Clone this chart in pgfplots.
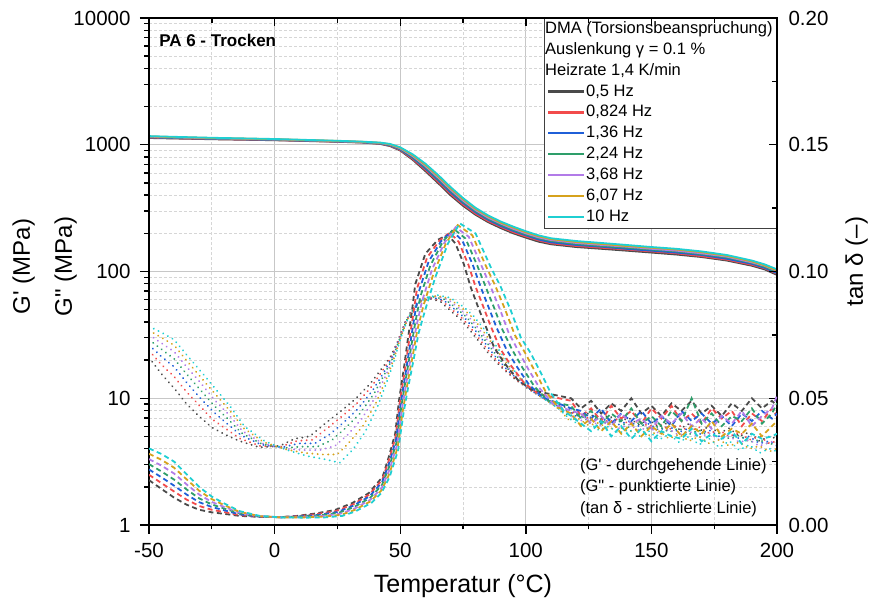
\documentclass[border=0pt]{standalone}
\usepackage{pgfplots}
\pgfplotsset{compat=1.18}
\usepackage{pgfplotstable}
\usepackage{fontspec}
\setmainfont{Liberation Sans}
\definecolor{c0}{HTML}{4A4A4A}
\definecolor{c1}{HTML}{F24B4B}
\definecolor{c2}{HTML}{1F5FD8}
\definecolor{c3}{HTML}{2E9E6A}
\definecolor{c4}{HTML}{B27BE8}
\definecolor{c5}{HTML}{D6A21C}
\definecolor{c6}{HTML}{1FCFD2}
\pgfplotsset{
  gp/.style={line width=1.8pt, solid, no markers},
  gpp/.style={line width=2pt, dash pattern=on 0.1pt off 5.2pt, line cap=round, no markers, forget plot},
  td/.style={line width=1.8pt, dash pattern=on 5pt off 3.5pt, no markers},
}
% G' (MPa)
\pgfplotstableread{
T g0 g1 g2 g3 g4 g5 g6
-50 1130 1137 1143 1150 1157 1163 1170
-40 1120 1126 1132 1138 1143 1149 1155
-25 1105 1110 1115 1120 1125 1130 1135
0 1085 1089 1093 1098 1102 1106 1110
25 1055 1058 1062 1065 1068 1072 1075
35 1040 1043 1046 1049 1052 1055 1058
42 1015 1019 1023 1028 1032 1036 1040
46 975 982 988 995 1002 1008 1015
50 900 909 918 928 937 946 955
55 760 773 787 800 813 827 840
60 620 635 650 665 680 695 710
65 500 513 527 540 553 567 580
70 400 411 422 433 443 454 465
75 330 338 347 355 363 372 380
80 280 286 293 299 305 312 318
85 245 250 256 261 266 272 277
90 220 225 229 234 239 243 248
95 200 204 209 213 217 222 226
100 185 189 193 196 200 204 208
105 172 176 179 183 186 190 193
110 164 167 170 174 177 180 183
120 156 159 162 165 168 171 174
130 151 154 157 159 162 165 168
140 146 149 151 154 157 159 162
150 141 144 146 149 151 154 156
160 136 139 141 144 146 149 151
170 130 132 135 137 139 142 144
180 122 124 126 129 131 133 135
190 111 113 115 117 118 120 122
195 104 106 107 109 111 112 114
200 94 96 97 99 101 102 104
}\Gp
% G'' (MPa)
\pgfplotstableread{
t0 v0 t1 v1 t2 v2 t3 v3 t4 v4 t5 v5 t6 v6
-50 21 -50 23.7 -50 26.3 -50 29 -50 31.7 -50 34.3 -50 37
-45 15.5 -45 18.4 -45 21.3 -45 24.3 -45 27.2 -45 30.1 -45 33
-40 12 -40 14.8 -40 17.7 -40 20.5 -40 23.3 -40 26.2 -40 29
-35 9 -35 11.2 -35 13.3 -35 15.5 -35 17.7 -35 19.8 -35 22
-30 7.2 -29.8 8.7 -29.7 10.1 -29.5 11.6 -29.3 13.1 -29.2 14.5 -29 16
-25 5.9 -24.7 6.8 -24.3 7.8 -24 8.7 -23.7 9.6 -23.3 10.6 -23 11.5
-20 5.2 -19.7 5.8 -19.3 6.4 -19 7.0 -18.7 7.6 -18.3 8.2 -18 8.8
-14 4.6 -13.7 4.8 -13.3 5.1 -13 5.3 -12.7 5.5 -12.3 5.8 -12 6.0
-6 4.1 -5.7 4.2 -5.3 4.3 -5 4.35 -4.7 4.4 -4.3 4.5 -4 4.6
2 4.2 2.5 4.15 3 4.1 3.5 4.05 4 4.0 4.5 3.95 5 3.9
8 4.8 8.8 4.6 9.7 4.4 10.5 4.15 11.3 3.9 12.2 3.7 13 3.5
14 5.0 15 4.7 16 4.4 17 4.15 18 3.9 19 3.6 20 3.3
20 6.3 21 5.8 22 5.2 23 4.7 24 4.2 25 3.6 26 3.1
26 7.8 26.8 7.2 27.7 6.5 28.5 5.9 29.3 5.2 30.2 4.6 31 3.9
32 9.8 32.7 9.1 33.3 8.3 34 7.6 34.7 6.9 35.3 6.1 36 5.4
38 13 38.5 12.3 39 11.5 39.5 10.8 40 10.1 40.5 9.3 41 8.6
43 17.5 43.3 16.9 43.7 16.3 44 15.8 44.3 15.2 44.7 14.6 45 14
46 21 46.25 20.75 46.5 20.5 46.75 20.25 47 20 47.25 19.75 47.5 19.5
49 28 49.2 28.2 49.3 28.3 49.5 28.5 49.7 28.7 49.8 28.8 50 29
52 40 52.2 40.3 52.3 40.7 52.5 41 52.7 41.3 52.8 41.7 53 42
55 51 55.25 51.5 55.5 52 55.75 52.5 56 53 56.25 53.5 56.5 54
58 58 58.3 58.7 58.7 59.3 59 60 59.3 60.7 59.7 61.3 60 62
62 61 62.5 61.7 63 62.3 63.5 63 64 63.7 64.5 64.3 65 65
66 58 66.7 58.7 67.3 59.3 68 60 68.7 60.7 69.3 61.3 70 62
70 49 70.8 49.7 71.7 50.3 72.5 51 73.3 51.7 74.2 52.3 75 53
74 42 74.8 42.5 75.7 43 76.5 43.5 77.3 44 78.2 44.5 79 45
78 34 78.8 34.3 79.7 34.7 80.5 35 81.3 35.3 82.2 35.7 83 36
82 27 82.8 27.2 83.7 27.3 84.5 27.5 85.3 27.7 86.2 27.8 87 28
86 21.5 86.8 21.5 87.7 21.5 88.5 21.5 89.3 21.5 90.2 21.5 91 21.5
91 17 91.8 16.8 92.7 16.7 93.5 16.5 94.3 16.3 95.2 16.2 96 16
96 14 96.8 13.75 97.7 13.5 98.5 13.25 99.3 13 100.2 12.75 101 12.5
102 11.5 102.8 11.25 103.7 11 104.5 10.75 105.3 10.5 106.2 10.25 107 10
108 9.8 108.8 9.55 109.7 9.3 110.5 9.05 111.3 8.8 112.2 8.55 113 8.3
117 8.3 117 7.7 117 7.9 117 7.3 117 7.5 117 6.8 117 7.0
121 7.2 121 7.6 121 7.0 121 7.4 121 6.6 121 6.9 121 6.2
125 7.6 125 6.9 125 7.2 125 6.6 125 6.9 125 6.1 125 6.5
129 6.8 129 7.2 129 6.5 129 7.0 129 6.1 129 6.4 129 5.6
133 7.3 133 6.5 133 6.9 133 6.2 133 6.5 133 5.7 133 6.0
137 6.5 137 6.9 137 6.2 137 6.6 137 5.8 137 6.0 137 5.3
141 7.0 141 6.3 141 6.6 141 5.9 141 6.2 141 5.4 141 5.7
145 6.2 145 6.6 145 6.0 145 6.4 145 5.6 145 5.8 145 5.0
149 6.8 149 6.0 149 6.3 149 5.7 149 5.9 149 5.1 149 5.5
153 5.9 153 6.3 153 5.6 153 6.0 153 5.3 153 5.5 153 4.7
157 6.5 157 5.7 157 6.0 157 5.4 157 5.7 157 4.8 157 5.2
161 5.7 161 6.1 161 5.4 161 5.8 161 5.1 161 5.2 161 4.5
165 6.3 165 5.5 165 5.8 165 5.2 165 5.5 165 4.6 165 5.0
169 5.5 169 5.9 169 5.2 169 5.6 169 4.9 169 5.0 169 4.3
173 6.0 173 5.3 173 5.6 173 5.0 173 5.3 173 4.4 173 4.8
177 5.3 177 5.6 177 5.0 177 5.3 177 4.7 177 4.7 177 4.1
181 5.8 181 5.0 181 5.3 181 4.8 181 5.0 181 4.2 181 4.6
185 5.0 185 5.4 185 4.8 185 5.1 185 4.5 185 4.5 185 3.9
189 5.4 189 4.7 189 5.0 189 4.5 189 4.7 189 4.0 189 4.3
193 4.6 193 5.0 193 4.4 193 4.7 193 4.2 193 4.2 193 3.7
197 5.0 197 4.4 197 4.6 197 4.3 197 4.5 197 3.8 197 4.0
200 4.8 200 4.6 200 4.2 200 4.5 200 4.6 200 4.0 200 3.8
}\Gpp
% tan delta
\pgfplotstableread{
t0 v0 t1 v1 t2 v2 t3 v3 t4 v4 t5 v5 t6 v6
-50 0.0177 -50 0.0198 -50 0.0219 -50 0.0240 -50 0.0260 -50 0.0281 -50 0.0302
-45 0.0142 -45 0.0165 -45 0.0188 -45 0.0211 -45 0.0234 -45 0.0257 -45 0.0280
-40 0.0108 -40 0.0132 -40 0.0155 -40 0.0179 -40 0.0203 -40 0.0226 -40 0.0250
-35 0.0080 -35 0.0100 -35 0.0120 -35 0.0140 -35 0.0160 -35 0.0180 -35 0.0200
-30 0.0060 -30 0.0075 -30 0.0090 -30 0.0105 -30 0.0120 -30 0.0135 -30 0.0150
-25 0.0050 -25 0.0060 -25 0.0071 -25 0.0081 -25 0.0091 -25 0.0102 -25 0.0112
-20 0.0044 -20 0.0051 -20 0.0058 -20 0.0065 -20 0.0071 -20 0.0078 -20 0.0085
-14 0.0036 -14 0.0039 -14 0.0042 -14 0.0046 -14 0.0049 -14 0.0052 -14 0.0055
-6 0.0032 -6 0.0033 -6 0.0033 -6 0.0034 -6 0.0035 -6 0.0035 -6 0.0036
2 0.0031 2.2 0.0031 2.3 0.0031 2.5 0.0030 2.7 0.0030 2.8 0.0030 3 0.0030
9 0.0036 9.5 0.0035 10 0.0034 10.5 0.0033 11 0.0031 11.5 0.0030 12 0.0029
16 0.0045 16.7 0.0043 17.3 0.0040 18 0.0038 18.7 0.0035 19.3 0.0033 20 0.0030
24 0.0059 24.5 0.0055 25 0.0051 25.5 0.0048 26 0.0044 26.5 0.0040 27 0.0036
31 0.0087 31.2 0.0081 31.3 0.0076 31.5 0.0070 31.7 0.0064 31.8 0.0059 32 0.0053
37.5 0.0126 37.7 0.0120 37.8 0.0113 38 0.0107 38.2 0.0100 38.3 0.0094 38.5 0.0087
43 0.0190 42.9 0.0179 42.8 0.0169 42.75 0.0158 42.7 0.0147 42.6 0.0137 42.5 0.0126
45.5 0.0270 45.55 0.0257 45.6 0.0243 45.65 0.0230 45.7 0.0217 45.75 0.0203 45.8 0.0190
48 0.0360 48.2 0.0349 48.4 0.0339 48.6 0.0328 48.8 0.0317 49 0.0307 49.2 0.0296
49.5 0.0490 49.8 0.0482 50.1 0.0473 50.4 0.0465 50.7 0.0457 51 0.0448 51.3 0.0440
51.5 0.0620 51.8 0.0608 52.1 0.0595 52.35 0.0583 52.6 0.0570 52.9 0.0558 53.2 0.0545
53 0.0730 53.4 0.0717 53.8 0.0703 54.15 0.0690 54.5 0.0677 54.9 0.0663 55.3 0.0650
54.5 0.0830 55 0.0818 55.4 0.0805 55.9 0.0793 56.4 0.0781 56.8 0.0768 57.3 0.0756
56 0.0950 56.7 0.0933 57.3 0.0917 58 0.0900 58.7 0.0883 59.3 0.0867 60 0.0850
60 0.1070 60.7 0.1055 61.3 0.1039 62 0.1024 62.7 0.1009 63.3 0.0993 64 0.0978
65 0.1125 65.7 0.1123 66.3 0.1120 67 0.1118 67.7 0.1115 68.3 0.1113 69 0.1110
69 0.1145 69.8 0.1153 70.6 0.1160 71.35 0.1168 72.1 0.1175 72.9 0.1183 73.7 0.1190
72 0.1110 73.3 0.1117 74.7 0.1123 76 0.1130 77.3 0.1137 78.7 0.1143 80 0.1150
75.3 0.1030 77.1 0.1028 78.9 0.1026 80.65 0.1024 82.4 0.1022 84.2 0.1020 86 0.1018
78 0.0940 80 0.0940 82 0.0940 84 0.0940 86 0.0940 88 0.0940 90 0.0940
81 0.0860 83.2 0.0858 85.3 0.0856 87.5 0.0854 89.7 0.0851 91.8 0.0849 94 0.0847
83.4 0.0800 85.8 0.0790 88.3 0.0780 90.7 0.0770 93.1 0.0760 95.6 0.0750 98 0.0740
87.4 0.0700 89.8 0.0696 92.3 0.0692 94.7 0.0689 97.1 0.0685 99.6 0.0681 102 0.0677
91.4 0.0640 93.8 0.0633 96.3 0.0627 98.7 0.0620 101.1 0.0613 103.6 0.0607 106 0.0600
97 0.0570 99.2 0.0562 101.3 0.0553 103.5 0.0545 105.7 0.0537 107.8 0.0528 110 0.0520
103 0.0530 105 0.0517 107 0.0503 109 0.0490 111 0.0477 113 0.0463 115 0.0450
118 0.050 118 0.049 118 0.046 118 0.047 118 0.045 118 0.044 118 0.043
122 0.046 122 0.043 122 0.045 122 0.042 122 0.044 122 0.039 122 0.040
126 0.049 126 0.046 126 0.042 126 0.045 126 0.040 126 0.042 126 0.037
130 0.044 130 0.041 130 0.046 130 0.040 130 0.043 130 0.037 130 0.041
134 0.048 134 0.047 134 0.040 134 0.044 134 0.039 134 0.041 134 0.035
138 0.045 138 0.042 138 0.044 138 0.041 138 0.044 138 0.036 138 0.039
142 0.050 142 0.045 142 0.041 142 0.046 142 0.040 142 0.040 142 0.034
146 0.044 146 0.040 146 0.045 146 0.040 146 0.042 146 0.035 146 0.038
150 0.047 150 0.046 150 0.040 150 0.043 150 0.038 150 0.039 150 0.033
154 0.043 154 0.042 154 0.043 154 0.039 154 0.043 154 0.036 154 0.037
158 0.048 158 0.047 158 0.039 158 0.045 158 0.040 158 0.040 158 0.035
162 0.045 162 0.041 162 0.045 162 0.041 162 0.044 162 0.035 162 0.034
166 0.049 166 0.044 166 0.041 166 0.050 166 0.039 166 0.039 166 0.038
170 0.044 170 0.040 170 0.044 170 0.040 170 0.042 170 0.036 170 0.033
174 0.047 174 0.046 174 0.040 174 0.044 174 0.038 174 0.041 174 0.036
178 0.043 178 0.042 178 0.043 178 0.039 178 0.043 178 0.035 178 0.034
182 0.048 182 0.045 182 0.039 182 0.043 182 0.040 182 0.038 182 0.037
186 0.045 186 0.039 186 0.044 186 0.041 186 0.045 186 0.036 186 0.032
190 0.050 190 0.044 190 0.041 190 0.046 190 0.039 190 0.040 190 0.036
194 0.046 194 0.041 194 0.045 194 0.040 194 0.043 194 0.035 194 0.034
198 0.049 198 0.046 198 0.042 198 0.044 198 0.046 198 0.039 198 0.035
200 0.047 200 0.043 200 0.044 200 0.048 200 0.051 200 0.041 200 0.036
}\Td
\begin{document}
\begin{tikzpicture}
\path[use as bounding box] (-149pt,-78pt) rectangle (723pt,525pt);
\begin{axis}[
  at={(0pt,0pt)}, anchor=south west,
  scale only axis, width=628pt, height=507pt,
  xmin=-50, xmax=200, ymode=log, ymin=1, ymax=10000,
  xtick={-50,0,50,100,150,200}, minor x tick num=1,
  xticklabels={-50,0,50,100,150,200},
  ytick={1,10,100,1000,10000}, yticklabels={1,10,100,1000,10000},
  xtick pos=left, ytick pos=left, tick align=outside,
  major tick length=9pt, minor tick length=4.5pt,
  xmajorgrids, xminorgrids, ymajorgrids, yminorgrids,
  major grid style={draw=black!22, line width=1.1pt},
  minor grid style={draw=black!16, line width=0.6pt, dash pattern=on 3pt off 2pt},
  axis line style={line width=1.6pt},
  tick style={line width=1.4pt, black},
  ticklabel style={font=\fontsize{20.5}{24}\selectfont},
  xticklabel style={yshift=-6pt},
  yticklabel style={xshift=-6pt},
  xlabel={Temperatur (°C)},
  xlabel style={at={(axis description cs:0.5,0)}, anchor=center, yshift=-61pt, font=\fontsize{25}{30}\selectfont},
  ylabel={G\textquotesingle{} (MPa)\\G\textquotedbl{} (MPa)},
  ylabel style={at={(axis description cs:-0.166,0.51)}, anchor=center, align=center, font=\fontsize{24}{42}\selectfont},
  legend style={at={(rel axis cs:1,1)}, anchor=north east, draw=black!75, line width=0.8pt, fill=white,
    font=\fontsize{16.5}{19}\selectfont, row sep=2.9pt,
    nodes={inner sep=1pt, text height=12pt, text depth=4pt}},
  legend cell align=left,
  legend image code/.code={\draw[#1, line width=2.2pt] (0pt,0.5pt) -- (36pt,0.5pt);},
]
\addlegendimage{empty legend}\addlegendentry{\hspace*{-41pt}DMA (Torsionsbeanspruchung)}
\addlegendimage{empty legend}\addlegendentry{\hspace*{-41pt}Auslenkung γ = 0.1 \%}
\addlegendimage{empty legend}\addlegendentry{\hspace*{-41pt}Heizrate 1,4 K/min}
\addplot[gpp,c0] table[x=t0,y=v0]{\Gpp};
\addplot[gpp,c1] table[x=t1,y=v1]{\Gpp};
\addplot[gpp,c2] table[x=t2,y=v2]{\Gpp};
\addplot[gpp,c3] table[x=t3,y=v3]{\Gpp};
\addplot[gpp,c4] table[x=t4,y=v4]{\Gpp};
\addplot[gpp,c5] table[x=t5,y=v5]{\Gpp};
\addplot[gpp,c6] table[x=t6,y=v6]{\Gpp};
\addplot[gp,c0] table[x=T,y=g0]{\Gp}; \addlegendentry{0,5 Hz}
\addplot[gp,c1] table[x=T,y=g1]{\Gp}; \addlegendentry{0,824 Hz}
\addplot[gp,c2] table[x=T,y=g2]{\Gp}; \addlegendentry{1,36 Hz}
\addplot[gp,c3] table[x=T,y=g3]{\Gp}; \addlegendentry{2,24 Hz}
\addplot[gp,c4] table[x=T,y=g4]{\Gp}; \addlegendentry{3,68 Hz}
\addplot[gp,c5] table[x=T,y=g5]{\Gp}; \addlegendentry{6,07 Hz}
\addplot[gp,c6] table[x=T,y=g6]{\Gp}; \addlegendentry{10 Hz}
\end{axis}
\begin{axis}[
  at={(0pt,0pt)}, anchor=south west,
  scale only axis, width=628pt, height=507pt,
  xmin=-50, xmax=200, ymin=0, ymax=0.2,
  xtick={-50,0,50,100,150,200}, minor x tick num=1, xticklabels={},
  ytick={0,0.05,0.1,0.15,0.2}, minor y tick num=1,
  yticklabels={0.00,0.05,0.10,0.15,0.20},
  xtick pos=right, ytick pos=right, yticklabel pos=right, tick align=inside,
  major tick length=8pt, minor tick length=5pt,
  axis line style={line width=1.6pt},
  tick style={line width=1.4pt, black},
  ticklabel style={font=\fontsize{20.5}{24}\selectfont},
  yticklabel style={xshift=8pt},
  ylabel={tan δ (–)},
  ylabel style={at={(axis description cs:1.127,0.52)}, anchor=center, rotate=0, font=\fontsize{24}{28}\selectfont},
]
\addplot[td,c0] table[x=t0,y=v0]{\Td};
\addplot[td,c1] table[x=t1,y=v1]{\Td};
\addplot[td,c2] table[x=t2,y=v2]{\Td};
\addplot[td,c3] table[x=t3,y=v3]{\Td};
\addplot[td,c4] table[x=t4,y=v4]{\Td};
\addplot[td,c5] table[x=t5,y=v5]{\Td};
\addplot[td,c6] table[x=t6,y=v6]{\Td};
\node[anchor=west, font=\bfseries\fontsize{17}{20}\selectfont, inner sep=0pt] at (rel axis cs:0.016,0.955) {PA 6 - Trocken};
\node[anchor=north west, align=left, font=\fontsize{16.5}{21.5}\selectfont, inner sep=0pt] at (rel axis cs:0.686,0.132) {(G\textquotesingle{} - durchgehende Linie)\\(G\textquotedbl{} - punktierte Linie)\\(tan δ - strichlierte Linie)};
\end{axis}
\end{tikzpicture}
\end{document}
